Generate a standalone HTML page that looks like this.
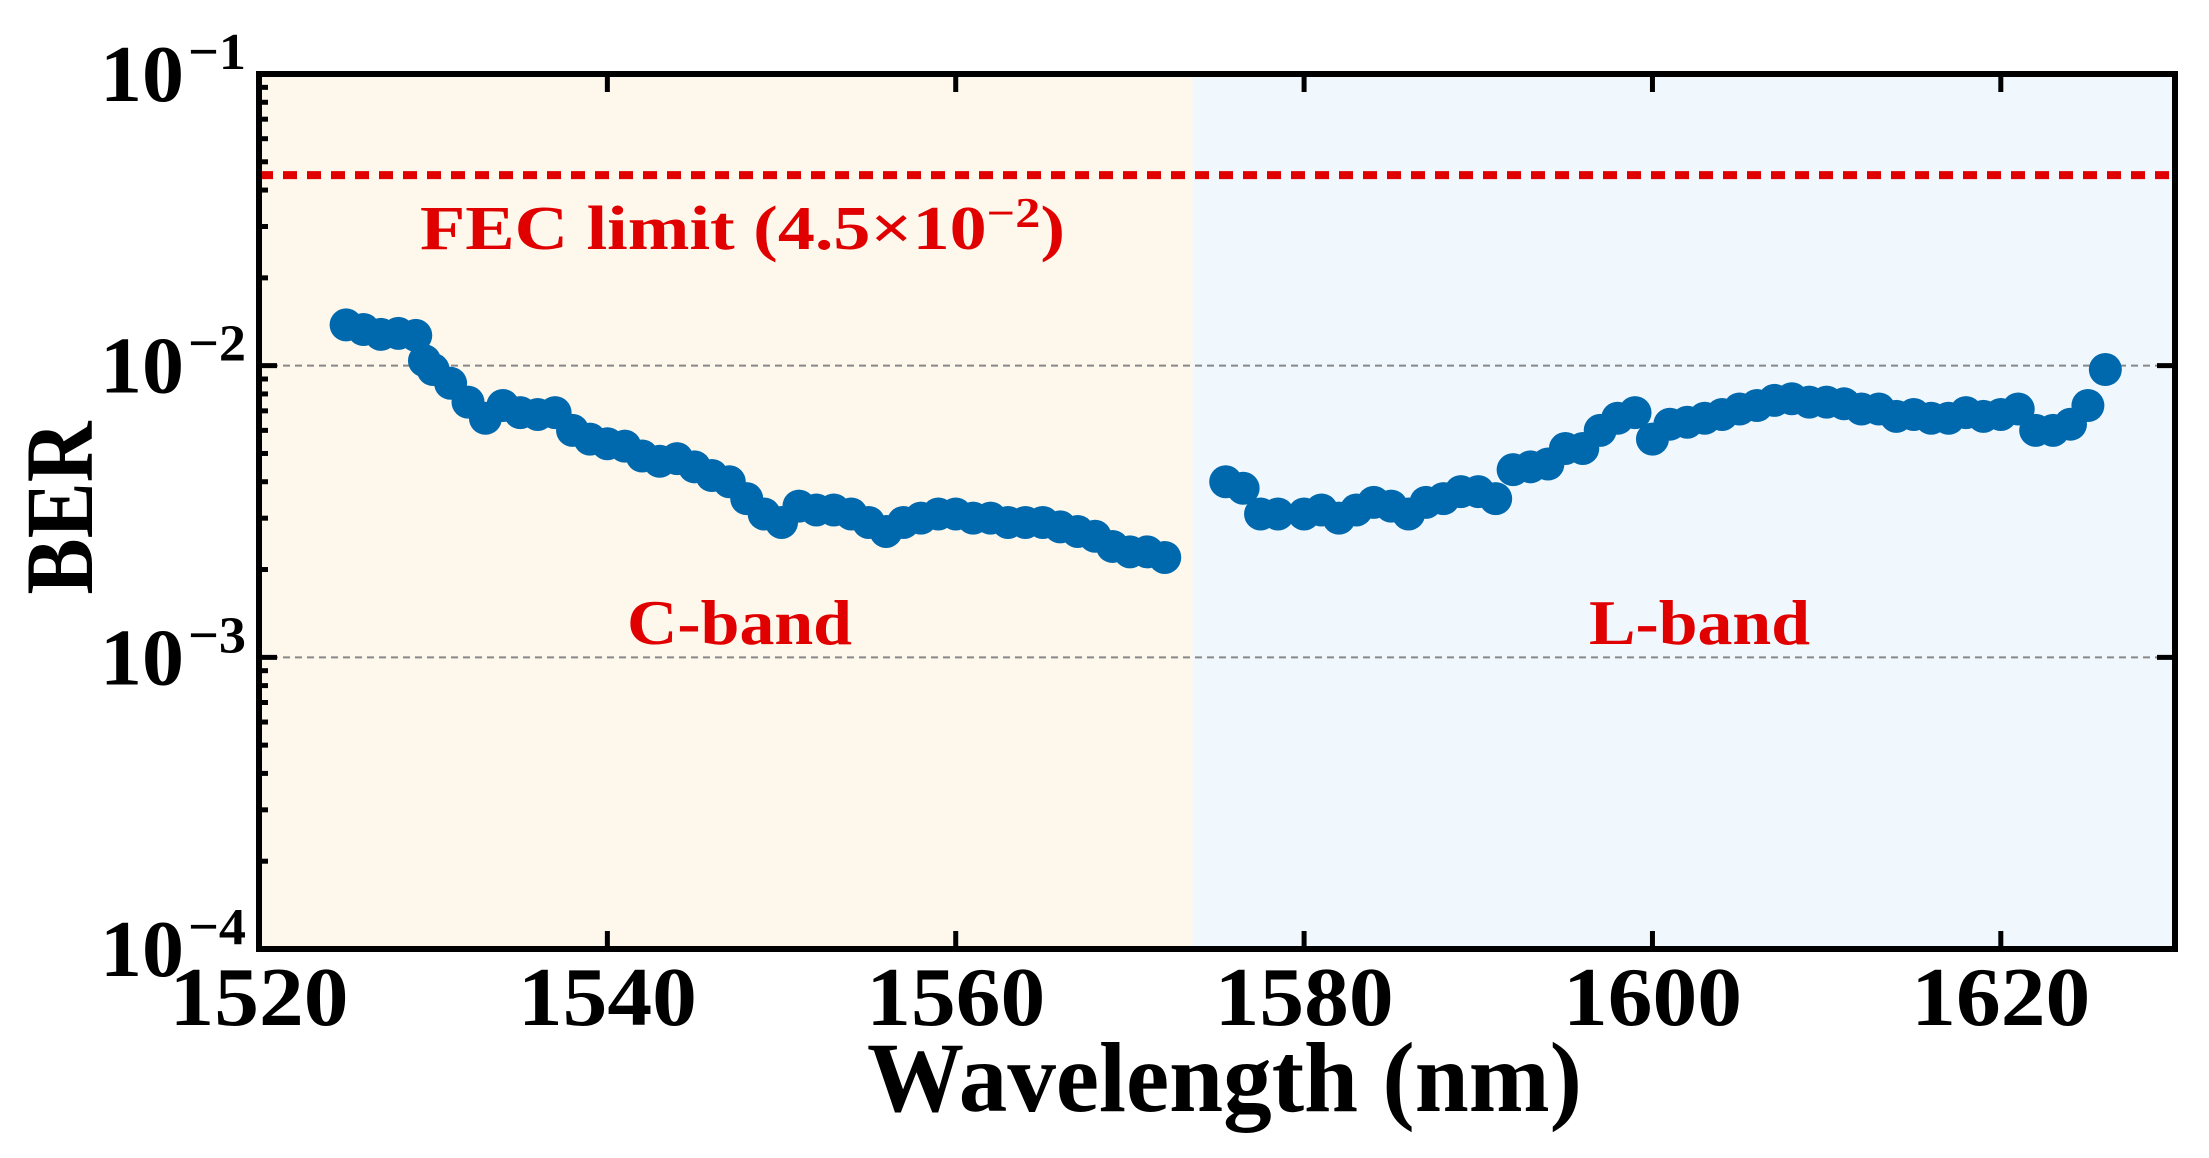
<!DOCTYPE html>
<html><head><meta charset="utf-8"><style>html,body{margin:0;padding:0;background:#fff}svg{display:block}text{font-family:"Liberation Serif",serif;font-weight:bold}</style></head>
<body>
<svg id="chart" width="2209" height="1158" viewBox="0 0 2209 1158" xmlns="http://www.w3.org/2000/svg"></svg>
<script>
const cWl = [1525,1526,1527,1528,1529,1529.5,1530,1531,1532,1533,1534,1535,1536,1537,1538,1539,1540,1541,1542,1543,1544,1545,1546,1547,1548,1549,1550,1551,1552,1553,1554,1555,1556,1557,1558,1559,1560,1561,1562,1563,1564,1565,1566,1567,1568,1569,1570,1571,1572];
const cBer = [0.0138,0.0133,0.0128,0.0129,0.0127,0.0104,0.0097,0.0087,0.0075,0.0066,0.0073,0.0069,0.0068,0.0069,0.0060,0.0056,0.0054,0.0053,0.0049,0.0047,0.0048,0.0045,0.0042,0.0040,0.0035,0.0031,0.0029,0.0033,0.0032,0.0032,0.0031,0.0029,0.0027,0.0029,0.0030,0.0031,0.0031,0.0030,0.0030,0.0029,0.0029,0.0029,0.0028,0.0027,0.0026,0.0024,0.0023,0.0023,0.0022];
const lWl = [1575.5,1576.5,1577.5,1578.5,1580,1581,1582,1583,1584,1585,1586,1587,1588,1589,1590,1591,1592,1593,1594,1595,1596,1597,1598,1599,1600,1601,1602,1603,1604,1605,1606,1607,1608,1609,1610,1611,1612,1613,1614,1615,1616,1617,1618,1619,1620,1621,1622,1623,1624,1625,1626];
const lBer = [0.0040,0.0038,0.0031,0.0031,0.0031,0.0032,0.0030,0.0032,0.0034,0.0033,0.0031,0.0034,0.0035,0.0037,0.0037,0.0035,0.0044,0.0045,0.0046,0.0052,0.0052,0.0060,0.0066,0.0069,0.0056,0.0063,0.0064,0.0066,0.0068,0.0071,0.0073,0.0076,0.0077,0.0075,0.0075,0.0074,0.0071,0.0071,0.0067,0.0068,0.0066,0.0066,0.0069,0.0067,0.0068,0.0071,0.0060,0.0060,0.0063,0.0073,0.0097];
const xTicks = [1520,1540,1560,1580,1600,1620];
const yExps = [-1,-2,-3,-4];
const fecLimit = 0.045;
const bandSplit = 1573.6;

const NS="http://www.w3.org/2000/svg", svg=document.getElementById('chart');
const L=259,R=2175,T=74,B=949, X0=1520,X1=1630;
const x=v=>L+(v-X0)/(X1-X0)*(R-L);
const y=v=>T+(-1-Math.log10(v))/3*(B-T);
function mk(t,a,p){const e=document.createElementNS(NS,t);for(const k in a)e.setAttribute(k,a[k]);(p||svg).appendChild(e);return e;}

let e;
e=mk('rect',{x:L,y:T,width:x(bandSplit)-L,height:B-T,fill:'#fdf7ec'});


e=mk('rect',{x:x(bandSplit),y:T,width:R-x(bandSplit),height:B-T,fill:'#f0f8fe'});


[-2,-3].forEach(p=>{e=mk('line',{x1:L,x2:R,y1:y(Math.pow(10,p)),y2:y(Math.pow(10,p)),stroke:'#888','stroke-width':2,'stroke-dasharray':'7 5'});

});
e=mk('line',{x1:L,x2:R,y1:y(fecLimit),y2:y(fecLimit),stroke:'#e00000','stroke-width':8,'stroke-dasharray':'14 10'});


const g=mk('g',{fill:'#0068ad'});


function pts(ws,bs){ws.forEach((w,i)=>{const c=mk('circle',{cx:x(w),cy:y(bs[i]),r:16.5},g);

});}
pts(cWl,cBer);pts(lWl,lBer);
for(let d=-4;d<-1+0.01;d++){for(let m=1;m<10;m++){const v=m*Math.pow(10,d);if(v>0.1+1e-9)break;const yy=y(v);const len=m===1?18:9;
e=mk('line',{x1:L,x2:L+len,y1:yy,y2:yy,stroke:'#000','stroke-width':5});


if(m===1){e=mk('line',{x1:R-18,x2:R,y1:yy,y2:yy,stroke:'#000','stroke-width':5});

}}}
xTicks.forEach(t=>{const xx=x(t);
e=mk('line',{x1:xx,x2:xx,y1:B,y2:B-18,stroke:'#000','stroke-width':5});


e=mk('line',{x1:xx,x2:xx,y1:T,y2:T+18,stroke:'#000','stroke-width':5});


e=mk('text',{x:xx,y:1025,'text-anchor':'middle','font-size':84,textLength:179,lengthAdjust:'spacingAndGlyphs'});e.textContent=t;

});
yExps.forEach(p=>{const yy=y(Math.pow(10,p));
e=mk('text',{x:100,y:yy+27,'font-size':80,textLength:84,lengthAdjust:'spacingAndGlyphs'});e.textContent='10';


e=mk('text',{x:188,y:yy-5,'font-size':52,textLength:58,lengthAdjust:'spacingAndGlyphs'});e.textContent='\u2212'+(-p);

});
e=mk('rect',{x:L,y:T,width:R-L,height:B-T,fill:'none',stroke:'#000','stroke-width':6});


e=mk('text',{x:420,y:249,'font-size':62,fill:'#e00000',textLength:645,lengthAdjust:'spacingAndGlyphs'});
e.innerHTML='FEC limit (4.5×10<tspan dy="-22" font-size="42">\u22122</tspan><tspan dy="22">)</tspan>';


e=mk('text',{x:627,y:644,'font-size':64,fill:'#e00000',textLength:225,lengthAdjust:'spacingAndGlyphs'});e.textContent='C-band';


e=mk('text',{x:1589,y:644,'font-size':64,fill:'#e00000',textLength:221,lengthAdjust:'spacingAndGlyphs'});e.textContent='L-band';


e=mk('text',{x:867,y:1111,'font-size':100,textLength:715,lengthAdjust:'spacingAndGlyphs'});e.textContent='Wavelength (nm)';


e=mk('text',{x:0,y:0,'font-size':96,'text-anchor':'middle',textLength:173,lengthAdjust:'spacingAndGlyphs',transform:'translate(92,508) rotate(-90)'});e.textContent='BER';


</script>
</body></html>
